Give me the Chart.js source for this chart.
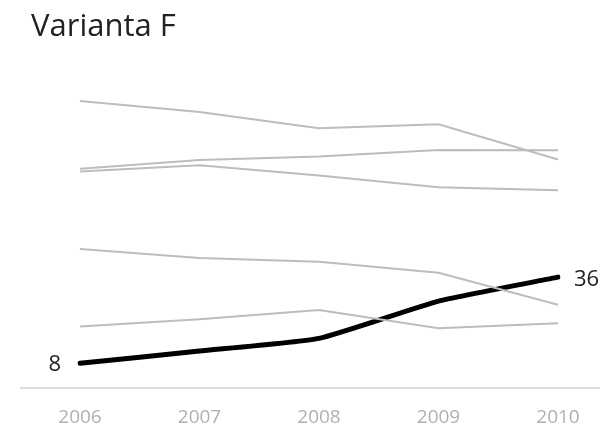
<!DOCTYPE html>
<html>
<head>
<meta charset="utf-8">
<script src="https://cdn.jsdelivr.net/npm/chart.js@4/dist/chart.umd.min.js"></script>
<style>
  body { margin: 0; background: #fff; }
  #wrap { position: relative; width: 600px; height: 425px; }
  #title { position: absolute; left: 31px; top: 3px; font-family: "Open Sans", sans-serif; font-size: 31px; color: #222; }
</style>
</head>
<body>
<div id="wrap">
  <div id="title">Varianta F</div>
  <canvas id="chartContainer" width="600" height="425"></canvas>
</div>
<script>
const years = ['2006', '2007', '2008', '2009', '2010'];
const grey1 = [93.2, 89.6, 84.3, 85.6, 74.2];
const grey2 = [71.2, 74.0, 75.2, 77.3, 77.2];
const grey3 = [70.3, 72.3, 69.0, 65.2, 64.2];
const grey4 = [45.1, 42.2, 41.0, 37.4, 27.0];
const grey5 = [20.0, 22.3, 25.3, 19.4, 21.0];
const main = [8, 12.0, 16.1, 28.2, 36];

// draws the base line past the plot edges + end labels of the black line
const extras = {
    id: 'extras',
    afterDatasetsDraw(chart) {
        const ctx = chart.ctx;
        const y0 = chart.scales.y.getPixelForValue(0);
        ctx.save();
        ctx.strokeStyle = '#dddddd';
        ctx.lineWidth = 2;
        ctx.beginPath();
        ctx.moveTo(20, y0);
        ctx.lineTo(600, y0);
        ctx.stroke();

        const pts = chart.getDatasetMeta(5).data;
        ctx.fillStyle = '#222';
        ctx.font = '22px "Open Sans"';
        ctx.textBaseline = 'middle';
        ctx.textAlign = 'right';
        ctx.fillText(main[0], pts[0].x - 19, pts[0].y + 1);
        ctx.textAlign = 'left';
        ctx.fillText(main[main.length - 1], pts[pts.length - 1].x + 16, pts[pts.length - 1].y + 3);
        ctx.restore();
    }
};

function greyLine(values) {
    return {
        data: values,
        borderColor: '#bdbdbd',
        borderWidth: 2,
        pointRadius: 0,
        tension: 0
    };
}

var ctx = document.getElementById('chartContainer').getContext('2d');
window.myChart = new Chart(ctx, {
    type: 'line',
    data: {
        labels: years,
        datasets: [
            greyLine(grey1),
            greyLine(grey2),
            greyLine(grey3),
            greyLine(grey4),
            greyLine(grey5),
            {
                data: main,
                borderColor: '#000',
                borderWidth: 5,
                pointRadius: 0,
                tension: 0.15,
                borderCapStyle: 'round'
            }
        ]
    },
    options: {
        responsive: false,
        animation: false,
        layout: {
            padding: { top: 80, left: 80, right: 42, bottom: 0 }
        },
        scales: {
            x: {
                grid: { display: false },
                border: { display: false },
                afterFit: function(scale) { scale.height = 37; },
                ticks: {
                    color: '#b0b0b0',
                    padding: 10,
                    maxRotation: 0,
                    font: { family: 'Open Sans', size: 19 }
                }
            },
            y: {
                display: false,
                min: 0,
                max: 100
            }
        },
        plugins: {
            legend: { display: false },
            tooltip: { enabled: false }
        }
    },
    plugins: [extras]
});
</script>
</body>
</html>
